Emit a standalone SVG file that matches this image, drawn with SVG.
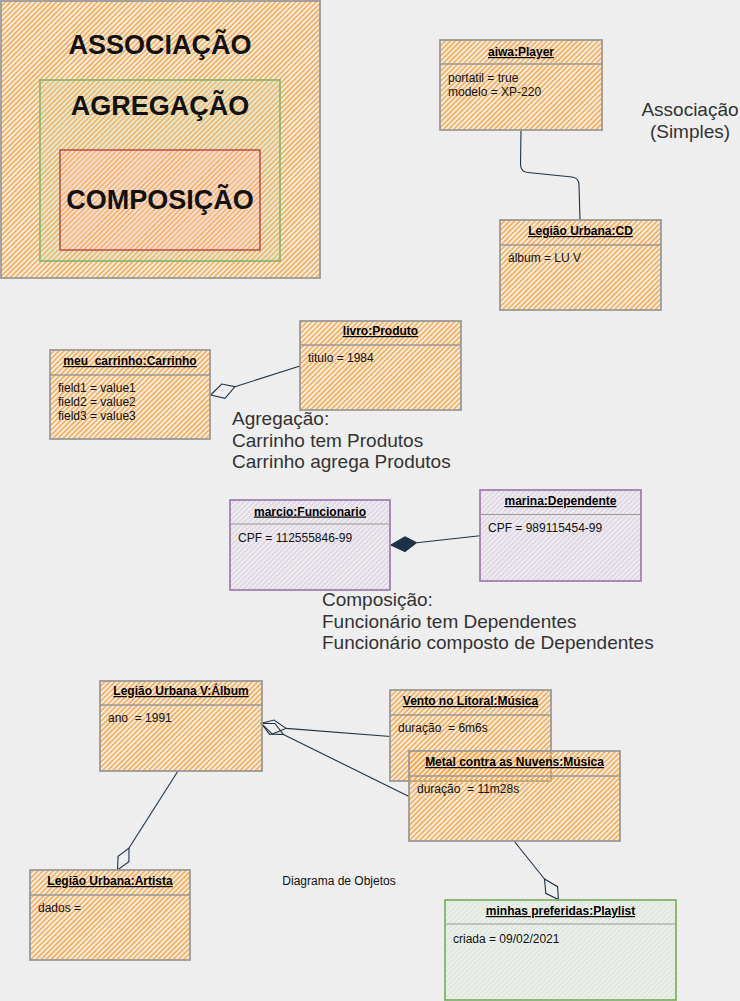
<svg xmlns="http://www.w3.org/2000/svg" width="740" height="1001" viewBox="0 0 740 1001">
<style>
.bx{stroke:#999;stroke-width:1.8}
.sep{stroke:#999;stroke-width:1.3;fill:none}
.t{font-family:'Liberation Sans',Arial,sans-serif;font-size:12px;font-weight:bold;text-anchor:middle;text-decoration:underline;fill:#000}
.a{font-family:'Liberation Sans',Arial,sans-serif;font-size:12px;fill:#111;white-space:pre}
.big{font-family:'Liberation Sans',Arial,sans-serif;font-size:27px;font-weight:bold;text-anchor:middle;fill:#111}
.n{font-family:'Liberation Sans',Arial,sans-serif;font-size:19px;fill:#333}
.c{stroke:#1e3247;stroke-width:1.1;fill:none}
</style>
<defs>
<pattern id="hO" patternUnits="userSpaceOnUse" width="8" height="3.6" patternTransform="rotate(-45)"><line x1="0" y1="1.8" x2="8" y2="1.8" stroke="#fdaa48" stroke-width="1.6"/></pattern>
<pattern id="hG" patternUnits="userSpaceOnUse" width="8" height="3.6" patternTransform="rotate(-45)"><line x1="0" y1="0" x2="8" y2="0" stroke="#d5e8d4" stroke-width="1.5"/><line x1="0" y1="3.6" x2="8" y2="3.6" stroke="#d5e8d4" stroke-width="1.5"/></pattern>
<pattern id="hR" patternUnits="userSpaceOnUse" width="8" height="3.6" patternTransform="rotate(-45)"><line x1="0" y1="0" x2="8" y2="0" stroke="#f8d4d2" stroke-width="1.6"/><line x1="0" y1="3.6" x2="8" y2="3.6" stroke="#f8d4d2" stroke-width="1.6"/></pattern>
<pattern id="hP" patternUnits="userSpaceOnUse" width="8" height="3.6" patternTransform="rotate(-45)"><line x1="0" y1="1.8" x2="8" y2="1.8" stroke="#dcd0e3" stroke-width="1.4"/></pattern>
<pattern id="hL" patternUnits="userSpaceOnUse" width="8" height="3.6" patternTransform="rotate(-45)"><line x1="0" y1="1.8" x2="8" y2="1.8" stroke="#d8e8d6" stroke-width="1.4"/></pattern>
</defs>
<rect x="0" y="0" width="740" height="1001" fill="#eeeeee"/>

<g id="legend">
<rect x="1" y="1" width="319" height="277" fill="url(#hO)" class="bx"/>
<rect x="40" y="80" width="240" height="181" fill="url(#hG)" stroke="#82b366" stroke-width="1.6"/>
<rect x="60" y="150" width="200" height="100" fill="url(#hR)" stroke="#b85450" stroke-width="1.6"/>
<text x="160" y="54" class="big">ASSOCIAÇÃO</text>
<text x="160" y="115" class="big">AGREGAÇÃO</text>
<text x="160" y="209" class="big">COMPOSIÇÃO</text>
</g>

<g id="connectors">
<path class="c" stroke-width="1.6" d="M521,130 L520.5,165 Q521,172 528,172.5 L572,177 Q579,178 579,185 L580,220"/>
<line class="c" x1="235" y1="386.7" x2="300" y2="366"/>
<polygon class="c" fill="#eeeeee" points="210.7,395 221.7,384 235,386.7 225,398.3"/>
<line class="c" x1="416.7" y1="542.7" x2="480" y2="535.7"/>
<polygon fill="#1e3247" stroke="#1e3247" stroke-width="1" points="390.7,545 405,536.7 416.7,542.7 405,551.7"/>
<line class="c" x1="286" y1="728.4" x2="390.6" y2="736.5"/>
<line class="c" x1="283.4" y1="734.4" x2="409" y2="796.6"/>
<polygon class="c" fill="none" points="261.2,723.3 274,720 286,728.4 272.4,734.1"/>
<polygon class="c" fill="none" points="261.2,723.3 274.9,723.5 283.4,734.4 269.5,734.2"/>
<line class="c" x1="178" y1="771" x2="129" y2="848"/>
<polygon class="c" fill="#eeeeee" points="129,848 128.9,861.7 117.5,870 118.1,856.3"/>
<line class="c" x1="514" y1="841" x2="544.5" y2="879"/>
<polygon class="c" fill="#eeeeee" points="544.5,879 557.6,886.7 558.4,899.5 545.8,893.3"/>
</g>

<g id="player">
<rect x="440" y="40" width="162" height="90" fill="url(#hO)" class="bx"/>
<line class="sep" x1="440" y1="64" x2="602" y2="64"/>
<text x="521" y="56" class="t">aiwa:Player</text>
<text x="448" y="82" class="a">portatil = true</text>
<text x="448" y="96" class="a">modelo = XP-220</text>
</g>

<g id="note-assoc">
<text x="690" y="116" class="n" text-anchor="middle">Associação</text>
<text x="690" y="137.6" class="n" text-anchor="middle">(Simples)</text>
</g>

<g id="cd">
<rect x="500" y="220" width="161" height="90" fill="url(#hO)" class="bx"/>
<line class="sep" x1="500" y1="245" x2="661" y2="245"/>
<text x="580.5" y="235" class="t">Legião Urbana:CD</text>
<text x="508" y="262" class="a">álbum = LU V</text>
</g>

<g id="carrinho">
<rect x="50" y="350" width="160" height="89" fill="url(#hO)" class="bx"/>
<line class="sep" x1="50" y1="375" x2="210" y2="375"/>
<text x="130" y="365" class="t">meu_carrinho:Carrinho</text>
<text x="58" y="392" class="a">field1 = value1</text>
<text x="58" y="406" class="a">field2 = value2</text>
<text x="58" y="420" class="a">field3 = value3</text>
</g>

<g id="produto">
<rect x="300" y="321" width="161" height="89" fill="url(#hO)" class="bx"/>
<line class="sep" x1="300" y1="345" x2="461" y2="345"/>
<text x="380.5" y="335" class="t">livro:Produto</text>
<text x="308" y="362" class="a">titulo = 1984</text>
</g>

<g id="note-agreg">
<text x="232" y="425" class="n">Agregação:</text>
<text x="232" y="446.6" class="n">Carrinho tem Produtos</text>
<text x="232" y="468.2" class="n">Carrinho agrega Produtos</text>
</g>

<g id="funcionario">
<rect x="230" y="500" width="160" height="90" fill="url(#hP)" stroke="#9673a6" stroke-width="1.6"/>
<line x1="230" y1="524" x2="390" y2="524" stroke="#999" stroke-width="1.2"/>
<text x="310" y="515.5" class="t">marcio:Funcionario</text>
<text x="238" y="542" class="a">CPF = 112555846-99</text>
</g>

<g id="dependente">
<rect x="480" y="490" width="161" height="91" fill="url(#hP)" stroke="#9673a6" stroke-width="1.6"/>
<line x1="480" y1="514.5" x2="641" y2="514.5" stroke="#999" stroke-width="1.2"/>
<text x="560.5" y="505" class="t">marina:Dependente</text>
<text x="488" y="532" class="a">CPF = 989115454-99</text>
</g>

<g id="note-comp">
<text x="322" y="606" class="n">Composição:</text>
<text x="322" y="627.6" class="n">Funcionário tem Dependentes</text>
<text x="322" y="649.2" class="n">Funcionário composto de Dependentes</text>
</g>

<g id="album">
<rect x="100" y="681" width="162" height="90" fill="url(#hO)" class="bx"/>
<line class="sep" x1="100" y1="705" x2="262" y2="705"/>
<text x="181" y="695" class="t">Legião Urbana V:Álbum</text>
<text x="108" y="722" class="a" xml:space="preserve">ano  = 1991</text>
</g>

<g id="vento">
<rect x="390" y="690" width="161" height="91" fill="url(#hO)" class="bx"/>
<line class="sep" x1="390" y1="715" x2="551" y2="715"/>
<text x="470.5" y="705" class="t">Vento no Litoral:Música</text>
<text x="398" y="732" class="a" xml:space="preserve">duração  = 6m6s</text>
</g>

<g id="metal">
<rect x="409" y="751" width="211" height="90" fill="url(#hO)" class="bx"/>
<line class="sep" x1="409" y1="776" x2="620" y2="776"/>
<text x="514.5" y="766" class="t">Metal contra as Nuvens:Música</text>
<text x="417" y="793" class="a" xml:space="preserve">duração  = 11m28s</text>
</g>

<g id="artista">
<rect x="30" y="870" width="160" height="90" fill="url(#hO)" class="bx"/>
<line class="sep" x1="30" y1="895" x2="190" y2="895"/>
<text x="110" y="885" class="t">Legião Urbana:Artista</text>
<text x="38" y="912" class="a">dados =</text>
</g>

<g id="title">
<text x="339" y="885" class="a" text-anchor="middle" fill="#333">Diagrama de Objetos</text>
</g>

<g id="playlist">
<rect x="445" y="900" width="231" height="100" fill="url(#hL)" stroke="#82b366" stroke-width="1.8"/>
<line x1="445" y1="924" x2="676" y2="924" stroke="#999" stroke-width="1.2"/>
<text x="560.5" y="915" class="t">minhas preferidas:Playlist</text>
<text x="453" y="943" class="a">criada = 09/02/2021</text>
</g>
</svg>
